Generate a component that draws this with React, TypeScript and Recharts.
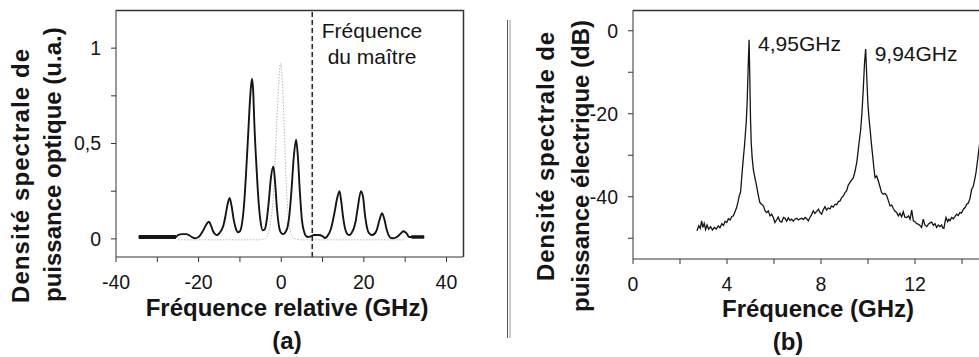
import React from 'react';
import { LineChart, Line, XAxis, YAxis, ReferenceLine, ReferenceDot } from 'recharts';

const FONT = '"Liberation Sans", Arial, Helvetica, sans-serif';
const INK = '#151515';
const FRAME = '#333333';

// ---------- Panel (a): optical spectrum ----------
const relFreqGHz = [
  -34.5, -25.5, -25, -24, -23, -22, -21, -20, -19, -18, -17.5, -17, -16.5, -16, -15.5, -15, -14, -13.5, -13, -12.5,
  -12, -11.5, -11, -10.5, -10, -9.5, -9, -8.5, -8, -7.5, -7.1, -6.8, -6.5, -6, -5.5, -5, -4.5, -4, -3.5, -3,
  -2.5, -1.9, -1.5, -1, -0.5, 0, 0.5, 1, 1.5, 2, 2.5, 3, 3.6, 4, 4.5, 5, 5.5, 6, 6.5, 7,
  8, 9, 10, 10.5, 11, 12, 13, 13.5, 14.1, 14.5, 15, 15.5, 16, 16.5, 17, 18, 18.5, 19.3, 19.8, 20.3,
  21, 21.5, 22, 23, 23.8, 24.4, 25, 25.5, 26, 26.5, 27, 28, 29, 29.6, 30.3, 31, 34.6,
];
const opticalPsd = [
  0.01, 0.01, 0.02, 0.025, 0.025, 0.015, 0.003, 0.01, 0.04, 0.08, 0.09, 0.07, 0.04, 0.025, 0.02, 0.03, 0.07, 0.12, 0.18, 0.215,
  0.17, 0.1, 0.055, 0.035, 0.04, 0.08, 0.18, 0.35, 0.55, 0.75, 0.84, 0.78, 0.6, 0.38, 0.2, 0.09, 0.045, 0.05, 0.1, 0.2,
  0.32, 0.38, 0.3, 0.15, 0.06, 0.03, 0.025, 0.035, 0.06, 0.13, 0.26, 0.42, 0.52, 0.44, 0.25, 0.1, 0.04, 0.015, 0.01, 0.012,
  0.02, 0.02, 0.015, 0.005, 0.01, 0.05, 0.15, 0.21, 0.25, 0.2, 0.11, 0.05, 0.025, 0.02, 0.03, 0.09, 0.16, 0.25, 0.22, 0.12,
  0.04, 0.025, 0.02, 0.04, 0.1, 0.135, 0.1, 0.05, 0.02, 0.005, 0.003, 0.01, 0.03, 0.04, 0.03, 0.01, 0.01,
];
const floorLeftFreq = [-34.5, -25.5];
const floorLeftPsd = [0.01, 0.01];
const floorRightFreq = [31.5, 34.6];
const floorRightPsd = [0.01, 0.01];

const masterRelFreqGHz = [-25, -5, -4, -3.5, -3, -2.5, -2, -1.5, -1, -0.5, -0.2, 0.2, 0.7, 1.2, 1.7, 2.2, 2.7, 3.5, 5, 30];
const masterPsd = [-0.005, -0.005, 0, 0.01, 0.04, 0.1, 0.2, 0.4, 0.65, 0.85, 0.92, 0.85, 0.6, 0.3, 0.12, 0.04, 0.01, 0, -0.005, -0.005];

const masterFrequencyGHz = 7.5;
const relDomain = [-40, 44];
const opticalDomain = [-0.095, 1.2];
const relTicks = [-40, -30, -20, -10, 0, 10, 20, 30, 40];
const relTickLabels = ['-40', '', '-20', '', '0', '', '20', '', '40'];
const opticalTicks = [0, 0.25, 0.5, 0.75, 1];
const opticalTickLabels = ['0', '', '0,5', '', '1'];

// ---------- Panel (b): electrical spectrum ----------
const elecFreqGHz = [
  2.72, 2.8, 2.86, 2.92, 2.97, 3.03, 3.09, 3.15, 3.22, 3.3, 3.38, 3.46, 3.55, 3.63, 3.7, 3.78, 3.85, 3.92, 3.99, 4.06,
  4.13, 4.2, 4.27, 4.34, 4.41, 4.47, 4.52, 4.58, 4.62, 4.66, 4.69, 4.74, 4.78, 4.82, 4.86, 4.9, 4.94, 4.97, 5.0, 5.03,
  5.07, 5.12, 5.19, 5.26, 5.33, 5.4, 5.47, 5.55, 5.62, 5.69, 5.76, 5.83, 5.9, 5.97, 6.04, 6.11, 6.18, 6.25, 6.33, 6.4,
  6.47, 6.54, 6.61, 6.68, 6.75, 6.82, 6.89, 6.97, 7.04, 7.11, 7.18, 7.25, 7.32, 7.39, 7.46, 7.53, 7.6, 7.67, 7.74, 7.81,
  7.89, 7.96, 8.03, 8.1, 8.17, 8.24, 8.31, 8.38, 8.45, 8.52, 8.6, 8.67, 8.74, 8.81, 8.88, 8.95, 9.02, 9.09, 9.16, 9.23,
  9.3, 9.38, 9.45, 9.52, 9.57, 9.62, 9.69, 9.74, 9.8, 9.85, 9.9, 9.94, 9.99, 10.04, 10.09, 10.15, 10.2, 10.25, 10.3, 10.37,
  10.44, 10.51, 10.58, 10.65, 10.72, 10.8, 10.87, 10.94, 11.01, 11.08, 11.15, 11.22, 11.29, 11.36, 11.43, 11.5, 11.57, 11.65, 11.72, 11.79,
  11.86, 11.93, 12.0, 12.07, 12.14, 12.21, 12.28, 12.35, 12.42, 12.5, 12.57, 12.64, 12.71, 12.78, 12.85, 12.92, 12.99, 13.06, 13.13, 13.18,
  13.23, 13.28, 13.32, 13.39, 13.44, 13.49, 13.56, 13.63, 13.7, 13.77, 13.84, 13.91, 13.98, 14.06, 14.13, 14.2, 14.27, 14.34, 14.41, 14.48,
  14.55, 14.6, 14.65, 14.72, 14.8,
];
const elecPsdDb = [
  -48.2, -47.0, -47.6, -45.8, -47.4, -46.4, -47.9, -46.8, -47.8, -47.2, -48.0, -47.4, -47.8, -47.0, -47.5, -46.5, -46.9, -45.9, -46.2, -45.3,
  -45.6, -44.8, -44.6, -43.6, -42.6, -41.2, -39.8, -38.8, -35.8, -33.0, -31.0, -28.0, -25.0, -22.0, -17.0, -9.0, -2.2, -11.0, -21.0, -27.0,
  -30.5, -33.4, -35.5, -37.4, -39.6, -41.4, -41.8, -42.2, -43.4, -43.8, -43.4, -44.6, -44.2, -45.0, -46.2, -45.6, -44.9, -45.9, -46.1, -45.0,
  -45.2, -45.9, -45.1, -45.7, -45.4, -45.9, -45.4, -45.2, -45.6, -45.3, -45.2, -45.5, -45.0, -45.3, -45.8, -45.0, -44.3, -43.4, -44.0, -43.6,
  -43.0, -43.8, -44.2, -43.1, -42.4, -43.2, -42.7, -42.9, -42.2, -42.5, -41.8, -41.9, -41.2, -41.0, -40.2, -39.8, -39.0, -38.6, -37.2, -36.6,
  -36.0, -35.4, -33.8, -31.8, -29.5, -27.0, -23.8, -20.0, -14.0, -8.0, -4.4, -10.0, -17.0, -21.0, -23.8, -27.5, -30.2, -33.0, -35.4, -35.0,
  -36.2, -37.6, -39.0, -39.4, -39.2, -39.8, -41.0, -42.2, -42.0, -42.9, -43.5, -43.8, -44.6, -44.0, -44.8, -43.6, -44.9, -45.0, -44.6, -45.4,
  -43.2, -45.8, -46.0, -46.5, -46.6, -46.9, -47.4, -45.4, -46.8, -47.2, -46.6, -46.3, -46.1, -46.9, -46.5, -47.4, -46.8, -47.2, -46.8, -47.5,
  -47.6, -46.0, -45.0, -46.0, -45.4, -45.8, -45.0, -45.3, -44.8, -44.2, -44.5, -43.8, -43.9, -43.0, -42.6, -41.8, -41.5, -40.4, -38.2, -37.5,
  -35.6, -34.0, -31.8, -28.6, -25.0,
];
const elecDomain = [0, 16];
const dbDomain = [-55, 5];
const elecTicks = [0, 2, 4, 6, 8, 10, 12, 14, 16];
const elecTickLabels = ['0', '', '4', '', '8', '', '12', '', ''];
const dbTicks = [-50, -40, -30, -20, -10, 0];
const dbTickLabels = ['', '-40', '', '-20', '', '0'];
const peakFreqGHz = [4.94, 9.9];
const peakDb = [-2.2, -4.4];
const peakLabels = ['4,95GHz', '9,94GHz'];

// ---------- helpers ----------
const toPoints = (xs: number[], ys: number[]) => xs.map((x, i) => ({ x, y: ys[i] }));
const fmt = (ticks: number[], labels: string[]) => (v: number) => {
  const i = ticks.findIndex((t) => Math.abs(t - v) < 1e-9);
  return i >= 0 ? labels[i] : '';
};

const opticalData = toPoints(relFreqGHz, opticalPsd);
const floorLeftData = toPoints(floorLeftFreq, floorLeftPsd);
const floorRightData = toPoints(floorRightFreq, floorRightPsd);
const masterData = toPoints(masterRelFreqGHz, masterPsd);
const elecData = toPoints(elecFreqGHz, elecPsdDb);

const tickStyle = { fill: INK, fontSize: 19.5, fontFamily: FONT };

const peakLabel = (text: string) => (props: any) => {
  const vb = props.viewBox || {};
  const cx = (vb.x ?? 0) + (vb.width ?? 0) / 2;
  const cy = (vb.y ?? 0) + (vb.height ?? 0) / 2;
  return (
    <text x={cx + 9} y={cy + 11.5} fill={INK} fontSize={21} fontFamily={FONT}>
      {text}
    </text>
  );
};

const titleProps = { fill: INK, fontFamily: FONT, fontWeight: 700, fontSize: 24 } as const;

export default function App() {
  return (
    <div
      style={{
        position: 'absolute',
        left: 0,
        top: 0,
        width: 979,
        height: 357,
        overflow: 'hidden',
        background: '#fff',
        fontFamily: FONT,
      }}
    >
      {/* Panel (a) */}
      <div style={{ position: 'absolute', left: 0, top: 0 }}>
        <LineChart width={470} height={357} margin={{ top: 10, right: 7, bottom: 70, left: 76 }}>
          <XAxis
            type="number"
            dataKey="x"
            domain={relDomain}
            allowDataOverflow
            ticks={relTicks}
            interval={0}
            tickFormatter={fmt(relTicks, relTickLabels)}
            tick={tickStyle}
            tickSize={5}
            tickMargin={13}
            height={30}
            stroke={FRAME}
          />
          <YAxis
            type="number"
            dataKey="y"
            domain={opticalDomain}
            allowDataOverflow
            ticks={opticalTicks}
            interval={0}
            tickFormatter={fmt(opticalTicks, opticalTickLabels)}
            tick={tickStyle}
            tickSize={5}
            tickMargin={10}
            width={40}
            stroke={FRAME}
          />
          <Line
            data={masterData}
            dataKey="y"
            type="monotone"
            stroke="#b8b8b8"
            strokeWidth={1}
            strokeDasharray="1.5 1.5"
            dot={false}
            isAnimationActive={false}
          />
          <Line
            data={opticalData}
            dataKey="y"
            type="monotone"
            stroke={INK}
            strokeWidth={1.9}
            dot={false}
            isAnimationActive={false}
          />
          <Line data={floorLeftData} dataKey="y" type="linear" stroke={INK} strokeWidth={4} dot={false} isAnimationActive={false} />
          <Line data={floorRightData} dataKey="y" type="linear" stroke={INK} strokeWidth={3.5} dot={false} isAnimationActive={false} />
          <ReferenceLine x={masterFrequencyGHz} stroke={INK} strokeWidth={1.4} strokeDasharray="5 3" />
        </LineChart>
      </div>

      {/* Panel (b) */}
      <div style={{ position: 'absolute', left: 520, top: 0 }}>
        <LineChart width={500} height={357} margin={{ top: 10, right: 11, bottom: 68, left: 73 }}>
          <XAxis
            type="number"
            dataKey="x"
            domain={elecDomain}
            allowDataOverflow
            ticks={elecTicks}
            interval={0}
            tickFormatter={fmt(elecTicks, elecTickLabels)}
            tick={tickStyle}
            tickSize={5}
            tickMargin={13}
            height={30}
            stroke={FRAME}
          />
          <YAxis
            type="number"
            dataKey="y"
            domain={dbDomain}
            allowDataOverflow
            ticks={dbTicks}
            interval={0}
            tickFormatter={fmt(dbTicks, dbTickLabels)}
            tick={tickStyle}
            tickSize={5}
            tickMargin={10}
            width={40}
            stroke={FRAME}
          />
          <Line
            data={elecData}
            dataKey="y"
            type="linear"
            stroke={INK}
            strokeWidth={1.3}
            dot={false}
            isAnimationActive={false}
          />
          {peakFreqGHz.map((f, i) => (
            <ReferenceDot
              key={i}
              x={f}
              y={peakDb[i]}
              r={1}
              fill="none"
              stroke="none"
              label={peakLabel(peakLabels[i])}
            />
          ))}
        </LineChart>
      </div>

      {/* Frames, titles, annotation and divider */}
      <svg width={979} height={357} style={{ position: 'absolute', left: 0, top: 0, pointerEvents: 'none' }}>
        <line x1={116} y1={10.5} x2={463.5} y2={10.5} stroke={FRAME} strokeWidth={1.5} />
        <line x1={463.5} y1={10} x2={463.5} y2={257} stroke={FRAME} strokeWidth={1.5} />
        <line x1={633} y1={10.5} x2={979} y2={10.5} stroke={FRAME} strokeWidth={1.5} />

        <text x={372} y={38} textAnchor="middle" fill={INK} fontFamily={FONT} fontSize={21}>
          Fréquence
        </text>
        <text x={372} y={63.5} textAnchor="middle" fill={INK} fontFamily={FONT} fontSize={21}>
          du maître
        </text>

        <text {...titleProps} x={29} y={303} transform="rotate(-90 29 303)" textLength={254} lengthAdjust="spacing">
          Densité spectrale de
        </text>
        <text {...titleProps} x={60.5} y={302} transform="rotate(-90 60.5 302)">
          puissance optique (u.a.)
        </text>
        <text {...titleProps} x={287} y={316} textAnchor="middle">
          Fréquence relative (GHz)
        </text>
        <text {...titleProps} x={287} y={349} textAnchor="middle">
          (a)
        </text>

        <line x1={507.5} y1={20} x2={507.5} y2={338} stroke="#555" strokeWidth={1} />
        <line x1={510} y1={20} x2={510} y2={338} stroke="#999" strokeWidth={1} />

        <text {...titleProps} x={554} y={281} transform="rotate(-90 554 281)" textLength={249} lengthAdjust="spacing">
          Densité spectrale de
        </text>
        <text {...titleProps} x={589} y={312} transform="rotate(-90 589 312)">
          puissance électrique (dB)
        </text>
        <text {...titleProps} x={818} y={317} textAnchor="middle">
          Fréquence (GHz)
        </text>
        <text {...titleProps} x={788} y={350} textAnchor="middle">
          (b)
        </text>
      </svg>
    </div>
  );
}
